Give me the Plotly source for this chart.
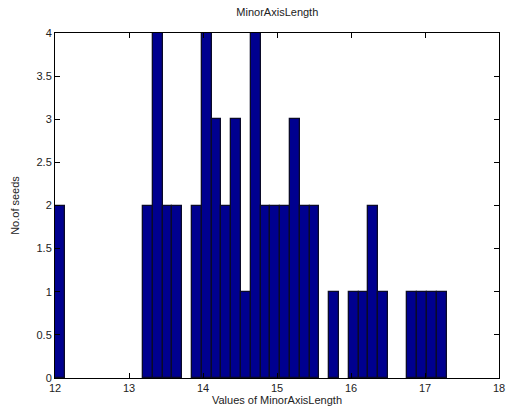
import plotly.graph_objects as go

# 40-bin histogram counts (MATLAB hist style)
counts = [2, 0, 0, 0, 0, 0, 0, 0, 0, 2,
          4, 2, 2, 0, 2, 4, 3, 2, 3, 1,
          4, 2, 2, 2, 3, 2, 2, 0, 1, 0,
          1, 1, 2, 1, 0, 0, 1, 1, 1, 1]
bin_min = 12.0
bin_width = 0.1323
x_ticks = [12, 13, 14, 15, 16, 17, 18]
y_ticks = [0, 0.5, 1, 1.5, 2, 2.5, 3, 3.5, 4]
y_tick_labels = ["0", "0.5", "1", "1.5", "2", "2.5", "3", "3.5", "4"]

centers = [bin_min + bin_width * (i + 0.5) for i in range(len(counts))]
xs = [c for c, n in zip(centers, counts) if n > 0]
ys = [n for n in counts if n > 0]

fig = go.Figure(go.Bar(
    x=xs, y=ys, width=bin_width,
    marker=dict(color="rgb(0,0,143)", line=dict(color="rgb(10,10,40)", width=1.3)),
))

font = dict(family="Liberation Sans, Arial, sans-serif", size=11, color="#222")
fig.update_layout(
    width=507, height=417,
    margin=dict(l=55, r=8, t=33, b=39),
    paper_bgcolor="white", plot_bgcolor="white",
    showlegend=False, bargap=0,
    font=font,
    title=dict(text="MinorAxisLength", x=0.547, xanchor="center", y=0.972, yanchor="middle",
               font=dict(size=11, color="#222")),
)
fig.update_xaxes(
    range=[12, 18], tickvals=x_ticks, ticks="inside", ticklen=5, tickcolor="black",
    showline=True, linecolor="black", linewidth=1, mirror="ticks", showgrid=False, zeroline=False,
    automargin=False,
    title=dict(text="Values of MinorAxisLength", standoff=2, font=dict(size=11)),
)
fig.update_yaxes(
    range=[0, 4], tickvals=y_ticks, ticktext=y_tick_labels, ticks="inside", ticklen=5,
    tickcolor="black", showline=True, linecolor="black", linewidth=1, mirror="ticks",
    showgrid=False, zeroline=False, automargin=False,
    title=dict(text="No.of seeds", standoff=14, font=dict(size=11)),
)

fig.write_html("out.html", config={"displayModeBar": False},
               post_script="document.body.style.margin='0';document.body.style.padding='0';")
